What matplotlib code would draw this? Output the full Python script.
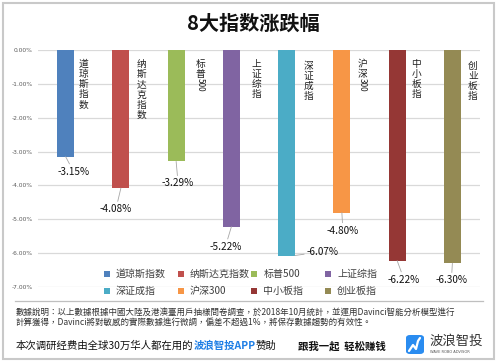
import matplotlib
matplotlib.use("Agg")
import matplotlib.pyplot as plt
from matplotlib.patches import Rectangle, FancyBboxPatch
from matplotlib.lines import Line2D
from matplotlib import transforms
import numpy as np

plt.rcParams['font.family'] = ['Noto Sans CJK SC', 'DejaVu Sans']

# ---------------- data ----------------
categories = ['道琼斯指数', '纳斯达克指数', '标普500', '上证综指',
              '深证成指', '沪深300', '中小板指', '创业板指']
values = [-3.15, -4.08, -3.29, -5.22, -6.07, -4.80, -6.22, -6.30]
colors = ['#4F81BD', '#C0504D', '#9BBB59', '#8064A2',
          '#4BACC6', '#F79646', '#953735', '#948A54']
yticks = [0, -1, -2, -3, -4, -5, -6, -7]
ytick_labels = ['0.00%', '-1.00%', '-2.00%', '-3.00%', '-4.00%',
                '-5.00%', '-6.00%', '-7.00%']
title = '8大指数涨跌幅'
note = ('數據說明：以上數據根據中國大陸及港澳臺用戶抽樣問卷調查，於2018年10月統計，並運用Davinci智能分析模型進行\n'
        '計算獲得，Davinci將對敏感的實際數據進行微調，偏差不超過1%，將保存數據趨勢的有效性。')
footer_a = '本次调研经费由全球30万华人都在用的'
footer_b = '波浪智投APP'
footer_c = '赞助'
slogan = '跟我一起  轻松赚钱'
brand = '波浪智投'
brand_sub = 'WAVE ROBO ADVISOR'

# layout-only offsets (pixels)
lab_off = [(8, 15), (-5, 21), (2, 22), (-6, 20), (28, -4), (1, 18), (7, 19), (-1, 17)]
lab_anchor = [0, 0, 0, 0, 0.15, 0, 0, 0]
cat_dx = [18, 20.6, 24.5, 25.5, 22, 20.5, 19, 20.5]
cat_dy = [-9, -9, -9, -9, -11, -9, -9, -11]

W, H = 500, 364
fig = plt.figure(figsize=(W / 100, H / 100), dpi=100)
fig.patch.set_facecolor('white')


def fx(x):
    return x / W


def fy(y):
    return 1 - y / H


# outer border
fig.add_artist(Rectangle((fx(3), fy(359)), fx(491), (356) / H, transform=fig.transFigure,
                         fill=False, edgecolor='#C9C9C9', lw=1.5))

# title
fig.text(fx(253), fy(23), title, ha='center', va='center', fontsize=14.5,
         fontweight='bold', color='#111111')

ax = fig.add_axes([fx(38), fy(287), (480 - 38) / W, (287 - 50) / H])
x = np.arange(len(categories))
ax.bar(x, values, width=0.31, color=colors, zorder=3)
ax.set_xlim(-0.5, len(categories) - 0.5)
ax.set_ylim(-7, 0)
ax.set_yticks(yticks)
ax.set_yticklabels(ytick_labels, fontsize=4.3, color='#595959', family='DejaVu Sans')
ax.tick_params(axis='y', length=0, pad=4)
ax.set_xticks([])
for s in ax.spines.values():
    s.set_visible(False)
ax.yaxis.grid(True, color='#D9D9D9', lw=0.9, zorder=0)
ax.set_axisbelow(True)

# value labels with leader lines
for i, v in enumerate(values):
    dx, dy = lab_off[i]
    ax.annotate(f'{v:.2f}%', xy=(i + lab_anchor[i], v), xytext=(dx, -dy),
                textcoords='offset pixels', ha='center', va='center',
                fontsize=7.2, color='#111111',
                arrowprops=dict(arrowstyle='-', color='#A6A6A6', lw=0.6,
                                shrinkA=0, shrinkB=0), zorder=5)

# vertical category labels beside the bars
fig.canvas.draw()
renderer = fig.canvas.get_renderer()
for i, c in enumerate(categories):
    han = ''.join(ch for ch in c if not ch.isdigit())
    dig = ''.join(ch for ch in c if ch.isdigit())
    tr = transforms.offset_copy(ax.transData, fig=fig, x=cat_dx[i], y=cat_dy[i], units='dots')
    t = ax.text(i, 0, '\n'.join(han), transform=tr, ha='center', va='top',
                fontsize=7, linespacing=1.02, color='#222222', zorder=6)
    if dig:
        bb = t.get_window_extent(renderer)
        xc = (bb.x0 + bb.x1) / 2
        fig.text(xc / W, (bb.y0 + 1) / H, dig, rotation=-90, ha='center', va='top',
                 fontsize=6, color='#222222')

# manual legend (two rows x four columns)
for i, (c, col) in enumerate(zip(categories, colors)):
    r, k = divmod(i, 4)
    mx = 107 + 73.7 * k
    my = 274 + 17 * r
    fig.add_artist(Rectangle((fx(mx - 3), fy(my + 3)), 6 / W, 6 / H,
                             transform=fig.transFigure, facecolor=col, edgecolor='none'))
    fig.text(fx(mx + 9), fy(my), c, ha='left', va='center', fontsize=7.2, color='#404040')

# separator
fig.add_artist(Line2D([fx(15), fx(483)], [fy(301), fy(301)], transform=fig.transFigure,
                      color='#BFBFBF', lw=0.9))

# note
fig.text(fx(16), fy(308), note, ha='left', va='top', fontsize=6.1, linespacing=1.15,
         color='#333333', family=['Noto Sans CJK TC', 'DejaVu Sans'])

# footer
ta = fig.text(fx(16), fy(346), footer_a, ha='left', va='center', fontsize=7.5, color='#111111')
fig.canvas.draw()
bb = ta.get_window_extent(renderer)
tb = fig.text(bb.x1 / W, fy(346), footer_b, ha='left', va='center', fontsize=7.5,
              color='#1F7FE5', fontweight='bold')
fig.canvas.draw()
bb2 = tb.get_window_extent(renderer)
fig.text(bb2.x1 / W, fy(346), footer_c, ha='left', va='center', fontsize=7.5, color='#111111')
fig.text(fx(298), fy(346), slogan, ha='left', va='center', fontsize=7.5,
         fontweight='bold', color='#111111')

# logo
fig.add_artist(FancyBboxPatch((fx(406), fy(354)), 18 / W, 19 / H,
                              boxstyle='round,pad=0,rounding_size=0.008',
                              transform=fig.transFigure, facecolor='#2A8CF0', edgecolor='none'))
fig.add_artist(Line2D([fx(409), fx(413), fx(416), fx(418), fx(420)],
                      [fy(351), fy(345), fy(349), fy(341), fy(338)],
                      transform=fig.transFigure, color='white', lw=1.6,
                      solid_capstyle='round'))
fig.text(fx(430), fy(341), brand, ha='left', va='center', fontsize=9.6, color='#333333')
fig.text(fx(430), fy(352), brand_sub, ha='left', va='center', fontsize=2.6,
         color='#555555', family='DejaVu Sans')

fig.savefig('out.png', dpi=100, facecolor='white')
